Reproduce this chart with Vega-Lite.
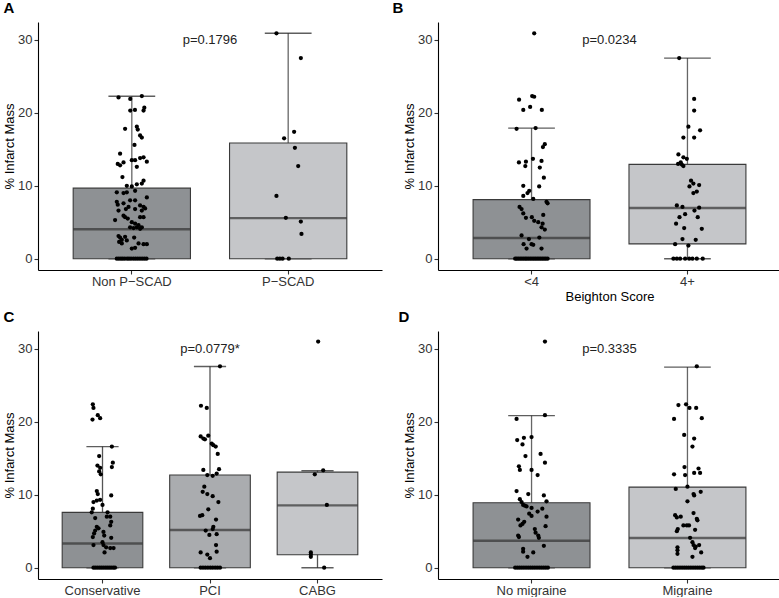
{
"$schema":"https://vega.github.io/schema/vega-lite/v6.json",
"padding":{"left":3,"top":1,"right":0,"bottom":0},
"background":"#ffffff",
"datasets":{
"boxes":[
{"panel":"A","group":"Non P−SCAD","lo":0,"q1":0,"med":4.05,"q3":9.67,"hi":22.27},
{"panel":"A","group":"P−SCAD","lo":0,"q1":0,"med":5.57,"q3":15.87,"hi":30.9},
{"panel":"B","group":"<4","lo":0,"q1":0,"med":2.85,"q3":8.1,"hi":17.9},
{"panel":"B","group":"4+","lo":0,"q1":2.03,"med":6.96,"q3":12.93,"hi":27.5},
{"panel":"C","group":"Conservative","lo":0,"q1":0,"med":3.33,"q3":7.58,"hi":16.6},
{"panel":"C","group":"PCI","lo":0,"q1":0,"med":5.17,"q3":12.7,"hi":27.57},
{"panel":"C","group":"CABG","lo":0,"q1":1.78,"med":8.55,"q3":13.1,"hi":13.3},
{"panel":"D","group":"No migraine","lo":0,"q1":0,"med":3.7,"q3":8.9,"hi":20.85},
{"panel":"D","group":"Migraine","lo":0,"q1":0,"med":4.08,"q3":11.05,"hi":27.5}
],
"labels":[
{"panel":"A","label":"p=0.1796"},
{"panel":"B","label":"p=0.0234"},
{"panel":"C","label":"p=0.0779*"},
{"panel":"D","label":"p=0.3335"}
],
"points":[
{"panel":"A","group":"Non P−SCAD","value":22.1,"jitter":-0.085},
{"panel":"A","group":"Non P−SCAD","value":21.9,"jitter":-0.01},
{"panel":"A","group":"Non P−SCAD","value":22.3,"jitter":0.064},
{"panel":"A","group":"Non P−SCAD","value":20.3,"jitter":-0.01},
{"panel":"A","group":"Non P−SCAD","value":20.4,"jitter":0.02},
{"panel":"A","group":"Non P−SCAD","value":20.7,"jitter":0.08},
{"panel":"A","group":"Non P−SCAD","value":20.3,"jitter":0.075},
{"panel":"A","group":"Non P−SCAD","value":17.8,"jitter":-0.043},
{"panel":"A","group":"Non P−SCAD","value":18.1,"jitter":0.032},
{"panel":"A","group":"Non P−SCAD","value":17.7,"jitter":0.038},
{"panel":"A","group":"Non P−SCAD","value":16.9,"jitter":0.053},
{"panel":"A","group":"Non P−SCAD","value":16.6,"jitter":0.064},
{"panel":"A","group":"Non P−SCAD","value":15.6,"jitter":0.017},
{"panel":"A","group":"Non P−SCAD","value":14.4,"jitter":-0.075},
{"panel":"A","group":"Non P−SCAD","value":13.0,"jitter":-0.09},
{"panel":"A","group":"Non P−SCAD","value":12.8,"jitter":-0.075},
{"panel":"A","group":"Non P−SCAD","value":13.2,"jitter":-0.053},
{"panel":"A","group":"Non P−SCAD","value":13.5,"jitter":0.0},
{"panel":"A","group":"Non P−SCAD","value":13.5,"jitter":0.021},
{"panel":"A","group":"Non P−SCAD","value":13.8,"jitter":0.053},
{"panel":"A","group":"Non P−SCAD","value":13.9,"jitter":0.075},
{"panel":"A","group":"Non P−SCAD","value":13.3,"jitter":0.096},
{"panel":"A","group":"Non P−SCAD","value":12.6,"jitter":0.032},
{"panel":"A","group":"Non P−SCAD","value":11.2,"jitter":-0.06},
{"panel":"A","group":"Non P−SCAD","value":10.7,"jitter":0.075},
{"panel":"A","group":"Non P−SCAD","value":10.3,"jitter":0.064},
{"panel":"A","group":"Non P−SCAD","value":10.0,"jitter":-0.032},
{"panel":"A","group":"Non P−SCAD","value":9.9,"jitter":0.0},
{"panel":"A","group":"Non P−SCAD","value":10.2,"jitter":0.032},
{"panel":"A","group":"Non P−SCAD","value":9.1,"jitter":-0.096},
{"panel":"A","group":"Non P−SCAD","value":9.0,"jitter":-0.053},
{"panel":"A","group":"Non P−SCAD","value":9.1,"jitter":-0.032},
{"panel":"A","group":"Non P−SCAD","value":9.3,"jitter":0.021},
{"panel":"A","group":"Non P−SCAD","value":8.4,"jitter":0.096},
{"panel":"A","group":"Non P−SCAD","value":7.8,"jitter":-0.096},
{"panel":"A","group":"Non P−SCAD","value":7.4,"jitter":-0.09},
{"panel":"A","group":"Non P−SCAD","value":7.6,"jitter":-0.053},
{"panel":"A","group":"Non P−SCAD","value":8.0,"jitter":-0.011},
{"panel":"A","group":"Non P−SCAD","value":8.0,"jitter":0.021},
{"panel":"A","group":"Non P−SCAD","value":7.3,"jitter":0.053},
{"panel":"A","group":"Non P−SCAD","value":7.1,"jitter":0.075},
{"panel":"A","group":"Non P−SCAD","value":6.9,"jitter":0.085},
{"panel":"A","group":"Non P−SCAD","value":6.6,"jitter":-0.085},
{"panel":"A","group":"Non P−SCAD","value":6.8,"jitter":-0.038},
{"panel":"A","group":"Non P−SCAD","value":7.1,"jitter":-0.021},
{"panel":"A","group":"Non P−SCAD","value":6.8,"jitter":0.021},
{"panel":"A","group":"Non P−SCAD","value":6.6,"jitter":0.064},
{"panel":"A","group":"Non P−SCAD","value":5.9,"jitter":-0.053},
{"panel":"A","group":"Non P−SCAD","value":5.7,"jitter":-0.043},
{"panel":"A","group":"Non P−SCAD","value":5.5,"jitter":-0.026},
{"panel":"A","group":"Non P−SCAD","value":5.3,"jitter":-0.107},
{"panel":"A","group":"Non P−SCAD","value":5.7,"jitter":0.053},
{"panel":"A","group":"Non P−SCAD","value":5.7,"jitter":0.075},
{"panel":"A","group":"Non P−SCAD","value":5.0,"jitter":0.0},
{"panel":"A","group":"Non P−SCAD","value":4.8,"jitter":0.021},
{"panel":"A","group":"Non P−SCAD","value":4.6,"jitter":0.043},
{"panel":"A","group":"Non P−SCAD","value":4.3,"jitter":-0.011},
{"panel":"A","group":"Non P−SCAD","value":4.2,"jitter":0.011},
{"panel":"A","group":"Non P−SCAD","value":4.3,"jitter":0.032},
{"panel":"A","group":"Non P−SCAD","value":4.1,"jitter":0.053},
{"panel":"A","group":"Non P−SCAD","value":4.3,"jitter":0.064},
{"panel":"A","group":"Non P−SCAD","value":3.1,"jitter":-0.085},
{"panel":"A","group":"Non P−SCAD","value":2.9,"jitter":-0.075},
{"panel":"A","group":"Non P−SCAD","value":2.6,"jitter":-0.064},
{"panel":"A","group":"Non P−SCAD","value":3.0,"jitter":-0.043},
{"panel":"A","group":"Non P−SCAD","value":2.5,"jitter":-0.032},
{"panel":"A","group":"Non P−SCAD","value":2.9,"jitter":0.015},
{"panel":"A","group":"Non P−SCAD","value":2.3,"jitter":-0.081},
{"panel":"A","group":"Non P−SCAD","value":2.1,"jitter":-0.064},
{"panel":"A","group":"Non P−SCAD","value":2.1,"jitter":0.043},
{"panel":"A","group":"Non P−SCAD","value":2.0,"jitter":0.075},
{"panel":"A","group":"Non P−SCAD","value":2.0,"jitter":0.096},
{"panel":"A","group":"Non P−SCAD","value":1.4,"jitter":0.0},
{"panel":"A","group":"Non P−SCAD","value":1.5,"jitter":0.021},
{"panel":"A","group":"Non P−SCAD","value":0,"jitter":-0.096},
{"panel":"A","group":"Non P−SCAD","value":0,"jitter":-0.083},
{"panel":"A","group":"Non P−SCAD","value":0,"jitter":-0.07},
{"panel":"A","group":"Non P−SCAD","value":0,"jitter":-0.058},
{"panel":"A","group":"Non P−SCAD","value":0,"jitter":-0.045},
{"panel":"A","group":"Non P−SCAD","value":0,"jitter":-0.03},
{"panel":"A","group":"Non P−SCAD","value":0,"jitter":-0.018},
{"panel":"A","group":"Non P−SCAD","value":0,"jitter":-0.005},
{"panel":"A","group":"Non P−SCAD","value":0,"jitter":0.01},
{"panel":"A","group":"Non P−SCAD","value":0,"jitter":0.024},
{"panel":"A","group":"Non P−SCAD","value":0,"jitter":0.038},
{"panel":"A","group":"Non P−SCAD","value":0,"jitter":0.052},
{"panel":"A","group":"Non P−SCAD","value":0,"jitter":0.066},
{"panel":"A","group":"Non P−SCAD","value":0,"jitter":0.08},
{"panel":"A","group":"Non P−SCAD","value":0,"jitter":0.094},
{"panel":"A","group":"P−SCAD","value":30.9,"jitter":-0.075},
{"panel":"A","group":"P−SCAD","value":27.5,"jitter":0.081},
{"panel":"A","group":"P−SCAD","value":17.4,"jitter":0.038},
{"panel":"A","group":"P−SCAD","value":16.5,"jitter":-0.026},
{"panel":"A","group":"P−SCAD","value":15.2,"jitter":0.043},
{"panel":"A","group":"P−SCAD","value":12.7,"jitter":0.064},
{"panel":"A","group":"P−SCAD","value":8.6,"jitter":-0.075},
{"panel":"A","group":"P−SCAD","value":5.6,"jitter":-0.015},
{"panel":"A","group":"P−SCAD","value":5.1,"jitter":0.081},
{"panel":"A","group":"P−SCAD","value":3.4,"jitter":0.085},
{"panel":"A","group":"P−SCAD","value":0,"jitter":-0.07},
{"panel":"A","group":"P−SCAD","value":0,"jitter":-0.053},
{"panel":"A","group":"P−SCAD","value":0,"jitter":-0.036},
{"panel":"A","group":"P−SCAD","value":0,"jitter":0.004},
{"panel":"B","group":"<4","value":30.9,"jitter":0.017},
{"panel":"B","group":"<4","value":21.8,"jitter":-0.08},
{"panel":"B","group":"<4","value":22.3,"jitter":0.004},
{"panel":"B","group":"<4","value":22.2,"jitter":0.017},
{"panel":"B","group":"<4","value":20.4,"jitter":-0.053},
{"panel":"B","group":"<4","value":20.8,"jitter":-0.009},
{"panel":"B","group":"<4","value":20.4,"jitter":0.066},
{"panel":"B","group":"<4","value":17.8,"jitter":-0.096},
{"panel":"B","group":"<4","value":17.9,"jitter":0.026},
{"panel":"B","group":"<4","value":15.7,"jitter":0.085},
{"panel":"B","group":"<4","value":15.3,"jitter":0.073},
{"panel":"B","group":"<4","value":13.7,"jitter":0.009},
{"panel":"B","group":"<4","value":13.2,"jitter":-0.081},
{"panel":"B","group":"<4","value":13.3,"jitter":-0.036},
{"panel":"B","group":"<4","value":12.7,"jitter":-0.04},
{"panel":"B","group":"<4","value":13.4,"jitter":0.064},
{"panel":"B","group":"<4","value":12.5,"jitter":0.053},
{"panel":"B","group":"<4","value":11.1,"jitter":0.079},
{"panel":"B","group":"<4","value":10.0,"jitter":-0.053},
{"panel":"B","group":"<4","value":9.9,"jitter":0.049},
{"panel":"B","group":"<4","value":9.3,"jitter":-0.015},
{"panel":"B","group":"<4","value":9.0,"jitter":-0.026},
{"panel":"B","group":"<4","value":8.2,"jitter":0.011},
{"panel":"B","group":"<4","value":8.6,"jitter":-0.053},
{"panel":"B","group":"<4","value":7.8,"jitter":0.096},
{"panel":"B","group":"<4","value":7.6,"jitter":0.103},
{"panel":"B","group":"<4","value":7.1,"jitter":-0.077},
{"panel":"B","group":"<4","value":6.8,"jitter":-0.064},
{"panel":"B","group":"<4","value":6.2,"jitter":-0.053},
{"panel":"B","group":"<4","value":6.0,"jitter":0.075},
{"panel":"B","group":"<4","value":5.6,"jitter":-0.036},
{"panel":"B","group":"<4","value":5.7,"jitter":0.002},
{"panel":"B","group":"<4","value":5.2,"jitter":0.017},
{"panel":"B","group":"<4","value":5.0,"jitter":0.043},
{"panel":"B","group":"<4","value":4.8,"jitter":0.071},
{"panel":"B","group":"<4","value":4.3,"jitter":0.064},
{"panel":"B","group":"<4","value":4.0,"jitter":0.085},
{"panel":"B","group":"<4","value":3.2,"jitter":-0.064},
{"panel":"B","group":"<4","value":2.7,"jitter":-0.017},
{"panel":"B","group":"<4","value":2.9,"jitter":0.05},
{"panel":"B","group":"<4","value":2.0,"jitter":-0.051},
{"panel":"B","group":"<4","value":2.0,"jitter":0.0},
{"panel":"B","group":"<4","value":1.9,"jitter":0.011},
{"panel":"B","group":"<4","value":1.4,"jitter":-0.032},
{"panel":"B","group":"<4","value":1.4,"jitter":0.064},
{"panel":"B","group":"<4","value":0,"jitter":-0.105},
{"panel":"B","group":"<4","value":0,"jitter":-0.095},
{"panel":"B","group":"<4","value":0,"jitter":-0.084},
{"panel":"B","group":"<4","value":0,"jitter":-0.073},
{"panel":"B","group":"<4","value":0,"jitter":-0.062},
{"panel":"B","group":"<4","value":0,"jitter":-0.051},
{"panel":"B","group":"<4","value":0,"jitter":-0.04},
{"panel":"B","group":"<4","value":0,"jitter":-0.03},
{"panel":"B","group":"<4","value":0,"jitter":-0.019},
{"panel":"B","group":"<4","value":0,"jitter":-0.008},
{"panel":"B","group":"<4","value":0,"jitter":0.003},
{"panel":"B","group":"<4","value":0,"jitter":0.014},
{"panel":"B","group":"<4","value":0,"jitter":0.025},
{"panel":"B","group":"<4","value":0,"jitter":0.036},
{"panel":"B","group":"<4","value":0,"jitter":0.047},
{"panel":"B","group":"<4","value":0,"jitter":0.058},
{"panel":"B","group":"<4","value":0,"jitter":0.069},
{"panel":"B","group":"<4","value":0,"jitter":0.08},
{"panel":"B","group":"<4","value":0,"jitter":0.091},
{"panel":"B","group":"<4","value":0,"jitter":0.103},
{"panel":"B","group":"4+","value":27.5,"jitter":-0.053},
{"panel":"B","group":"4+","value":21.9,"jitter":0.043},
{"panel":"B","group":"4+","value":20.3,"jitter":0.043},
{"panel":"B","group":"4+","value":18.1,"jitter":0.006},
{"panel":"B","group":"4+","value":17.6,"jitter":0.081},
{"panel":"B","group":"4+","value":16.6,"jitter":-0.026},
{"panel":"B","group":"4+","value":16.6,"jitter":0.043},
{"panel":"B","group":"4+","value":14.3,"jitter":-0.058},
{"panel":"B","group":"4+","value":13.9,"jitter":-0.026},
{"panel":"B","group":"4+","value":13.7,"jitter":-0.004},
{"panel":"B","group":"4+","value":13.2,"jitter":-0.043},
{"panel":"B","group":"4+","value":12.9,"jitter":-0.036},
{"panel":"B","group":"4+","value":12.7,"jitter":-0.026},
{"panel":"B","group":"4+","value":13.0,"jitter":-0.06},
{"panel":"B","group":"4+","value":10.7,"jitter":0.023},
{"panel":"B","group":"4+","value":10.3,"jitter":0.038},
{"panel":"B","group":"4+","value":9.9,"jitter":0.013},
{"panel":"B","group":"4+","value":10.1,"jitter":0.075},
{"panel":"B","group":"4+","value":9.0,"jitter":0.038},
{"panel":"B","group":"4+","value":9.2,"jitter":0.06},
{"panel":"B","group":"4+","value":7.3,"jitter":-0.068},
{"panel":"B","group":"4+","value":7.1,"jitter":-0.032},
{"panel":"B","group":"4+","value":6.6,"jitter":0.045},
{"panel":"B","group":"4+","value":7.0,"jitter":0.075},
{"panel":"B","group":"4+","value":6.1,"jitter":-0.015},
{"panel":"B","group":"4+","value":5.7,"jitter":-0.051},
{"panel":"B","group":"4+","value":5.7,"jitter":0.066},
{"panel":"B","group":"4+","value":4.8,"jitter":-0.073},
{"panel":"B","group":"4+","value":4.2,"jitter":-0.021},
{"panel":"B","group":"4+","value":4.1,"jitter":0.092},
{"panel":"B","group":"4+","value":2.7,"jitter":-0.032},
{"panel":"B","group":"4+","value":2.6,"jitter":0.053},
{"panel":"B","group":"4+","value":2.0,"jitter":-0.079},
{"panel":"B","group":"4+","value":1.8,"jitter":0.006},
{"panel":"B","group":"4+","value":0,"jitter":-0.09},
{"panel":"B","group":"4+","value":0,"jitter":-0.068},
{"panel":"B","group":"4+","value":0,"jitter":-0.047},
{"panel":"B","group":"4+","value":0,"jitter":-0.015},
{"panel":"B","group":"4+","value":0,"jitter":0.011},
{"panel":"B","group":"4+","value":0,"jitter":0.032},
{"panel":"B","group":"4+","value":0,"jitter":0.06},
{"panel":"B","group":"4+","value":0,"jitter":0.098},
{"panel":"C","group":"Conservative","value":22.4,"jitter":-0.09},
{"panel":"C","group":"Conservative","value":21.9,"jitter":-0.084},
{"panel":"C","group":"Conservative","value":20.3,"jitter":-0.093},
{"panel":"C","group":"Conservative","value":20.9,"jitter":-0.044},
{"panel":"C","group":"Conservative","value":20.5,"jitter":-0.022},
{"panel":"C","group":"Conservative","value":16.6,"jitter":0.087},
{"panel":"C","group":"Conservative","value":15.3,"jitter":-0.031},
{"panel":"C","group":"Conservative","value":14.0,"jitter":-0.047},
{"panel":"C","group":"Conservative","value":13.7,"jitter":-0.022},
{"panel":"C","group":"Conservative","value":13.2,"jitter":-0.031},
{"panel":"C","group":"Conservative","value":12.8,"jitter":-0.016},
{"panel":"C","group":"Conservative","value":14.4,"jitter":0.096},
{"panel":"C","group":"Conservative","value":13.8,"jitter":0.087},
{"panel":"C","group":"Conservative","value":10.5,"jitter":-0.053},
{"panel":"C","group":"Conservative","value":10.1,"jitter":-0.044},
{"panel":"C","group":"Conservative","value":9.9,"jitter":0.081},
{"panel":"C","group":"Conservative","value":9.2,"jitter":-0.053},
{"panel":"C","group":"Conservative","value":9.3,"jitter":-0.022},
{"panel":"C","group":"Conservative","value":9.0,"jitter":-0.084},
{"panel":"C","group":"Conservative","value":8.6,"jitter":0.0},
{"panel":"C","group":"Conservative","value":8.1,"jitter":-0.09},
{"panel":"C","group":"Conservative","value":7.6,"jitter":-0.1},
{"panel":"C","group":"Conservative","value":7.6,"jitter":0.047},
{"panel":"C","group":"Conservative","value":7.0,"jitter":0.04},
{"panel":"C","group":"Conservative","value":7.0,"jitter":0.072},
{"panel":"C","group":"Conservative","value":6.8,"jitter":-0.068},
{"panel":"C","group":"Conservative","value":6.3,"jitter":0.081},
{"panel":"C","group":"Conservative","value":5.8,"jitter":0.072},
{"panel":"C","group":"Conservative","value":5.6,"jitter":-0.053},
{"panel":"C","group":"Conservative","value":5.4,"jitter":-0.037},
{"panel":"C","group":"Conservative","value":5.1,"jitter":-0.068},
{"panel":"C","group":"Conservative","value":4.9,"jitter":0.009},
{"panel":"C","group":"Conservative","value":4.7,"jitter":-0.078},
{"panel":"C","group":"Conservative","value":4.4,"jitter":0.016},
{"panel":"C","group":"Conservative","value":4.2,"jitter":-0.09},
{"panel":"C","group":"Conservative","value":4.1,"jitter":0.081},
{"panel":"C","group":"Conservative","value":3.1,"jitter":-0.084},
{"panel":"C","group":"Conservative","value":3.5,"jitter":0.0},
{"panel":"C","group":"Conservative","value":3.1,"jitter":0.009},
{"panel":"C","group":"Conservative","value":2.8,"jitter":0.034},
{"panel":"C","group":"Conservative","value":2.7,"jitter":0.072},
{"panel":"C","group":"Conservative","value":2.7,"jitter":0.103},
{"panel":"C","group":"Conservative","value":2.1,"jitter":0.019},
{"panel":"C","group":"Conservative","value":0,"jitter":-0.084},
{"panel":"C","group":"Conservative","value":0,"jitter":-0.066},
{"panel":"C","group":"Conservative","value":0,"jitter":-0.047},
{"panel":"C","group":"Conservative","value":0,"jitter":-0.028},
{"panel":"C","group":"Conservative","value":0,"jitter":-0.01},
{"panel":"C","group":"Conservative","value":0,"jitter":0.008},
{"panel":"C","group":"Conservative","value":0,"jitter":0.027},
{"panel":"C","group":"Conservative","value":0,"jitter":0.045},
{"panel":"C","group":"Conservative","value":0,"jitter":0.063},
{"panel":"C","group":"Conservative","value":0,"jitter":0.081},
{"panel":"C","group":"Conservative","value":0,"jitter":0.1},
{"panel":"C","group":"Conservative","value":0,"jitter":0.116},
{"panel":"C","group":"PCI","value":27.6,"jitter":0.093},
{"panel":"C","group":"PCI","value":22.2,"jitter":-0.084},
{"panel":"C","group":"PCI","value":21.9,"jitter":-0.03},
{"panel":"C","group":"PCI","value":18.0,"jitter":-0.087},
{"panel":"C","group":"PCI","value":17.7,"jitter":-0.062},
{"panel":"C","group":"PCI","value":17.6,"jitter":-0.047},
{"panel":"C","group":"PCI","value":18.1,"jitter":-0.016},
{"panel":"C","group":"PCI","value":17.0,"jitter":0.016},
{"panel":"C","group":"PCI","value":16.8,"jitter":0.031},
{"panel":"C","group":"PCI","value":16.6,"jitter":0.053},
{"panel":"C","group":"PCI","value":15.6,"jitter":0.072},
{"panel":"C","group":"PCI","value":13.4,"jitter":-0.062},
{"panel":"C","group":"PCI","value":13.5,"jitter":0.084},
{"panel":"C","group":"PCI","value":12.7,"jitter":-0.025},
{"panel":"C","group":"PCI","value":12.6,"jitter":0.025},
{"panel":"C","group":"PCI","value":12.9,"jitter":0.062},
{"panel":"C","group":"PCI","value":11.1,"jitter":-0.053},
{"panel":"C","group":"PCI","value":10.4,"jitter":-0.068},
{"panel":"C","group":"PCI","value":10.1,"jitter":-0.025},
{"panel":"C","group":"PCI","value":9.8,"jitter":0.025},
{"panel":"C","group":"PCI","value":9.0,"jitter":0.078},
{"panel":"C","group":"PCI","value":8.0,"jitter":-0.016},
{"panel":"C","group":"PCI","value":7.1,"jitter":-0.093},
{"panel":"C","group":"PCI","value":7.2,"jitter":-0.072},
{"panel":"C","group":"PCI","value":6.6,"jitter":0.056},
{"panel":"C","group":"PCI","value":5.6,"jitter":0.031},
{"panel":"C","group":"PCI","value":5.3,"jitter":0.025},
{"panel":"C","group":"PCI","value":5.1,"jitter":-0.04},
{"panel":"C","group":"PCI","value":4.5,"jitter":-0.006},
{"panel":"C","group":"PCI","value":4.6,"jitter":0.062},
{"panel":"C","group":"PCI","value":3.1,"jitter":0.056},
{"panel":"C","group":"PCI","value":2.2,"jitter":0.062},
{"panel":"C","group":"PCI","value":2.1,"jitter":-0.087},
{"panel":"C","group":"PCI","value":1.8,"jitter":-0.025},
{"panel":"C","group":"PCI","value":1.3,"jitter":0.0},
{"panel":"C","group":"PCI","value":0,"jitter":-0.087},
{"panel":"C","group":"PCI","value":0,"jitter":-0.065},
{"panel":"C","group":"PCI","value":0,"jitter":-0.043},
{"panel":"C","group":"PCI","value":0,"jitter":-0.02},
{"panel":"C","group":"PCI","value":0,"jitter":0.003},
{"panel":"C","group":"PCI","value":0,"jitter":0.025},
{"panel":"C","group":"PCI","value":0,"jitter":0.048},
{"panel":"C","group":"PCI","value":0,"jitter":0.07},
{"panel":"C","group":"PCI","value":0,"jitter":0.093},
{"panel":"C","group":"CABG","value":31.0,"jitter":0.006},
{"panel":"C","group":"CABG","value":13.35,"jitter":0.053},
{"panel":"C","group":"CABG","value":12.8,"jitter":-0.025},
{"panel":"C","group":"CABG","value":8.6,"jitter":0.087},
{"panel":"C","group":"CABG","value":2.1,"jitter":-0.062},
{"panel":"C","group":"CABG","value":1.8,"jitter":-0.062},
{"panel":"C","group":"CABG","value":1.5,"jitter":-0.062},
{"panel":"C","group":"CABG","value":0,"jitter":0.062},
{"panel":"D","group":"No migraine","value":31.0,"jitter":0.086},
{"panel":"D","group":"No migraine","value":20.4,"jitter":-0.096},
{"panel":"D","group":"No migraine","value":20.9,"jitter":0.086},
{"panel":"D","group":"No migraine","value":17.5,"jitter":-0.092},
{"panel":"D","group":"No migraine","value":17.8,"jitter":-0.049},
{"panel":"D","group":"No migraine","value":16.9,"jitter":-0.058},
{"panel":"D","group":"No migraine","value":17.9,"jitter":0.0},
{"panel":"D","group":"No migraine","value":15.3,"jitter":-0.039},
{"panel":"D","group":"No migraine","value":15.6,"jitter":0.058},
{"panel":"D","group":"No migraine","value":14.4,"jitter":0.086},
{"panel":"D","group":"No migraine","value":13.9,"jitter":-0.081},
{"panel":"D","group":"No migraine","value":13.4,"jitter":-0.075},
{"panel":"D","group":"No migraine","value":13.4,"jitter":0.0},
{"panel":"D","group":"No migraine","value":12.7,"jitter":0.039},
{"panel":"D","group":"No migraine","value":10.5,"jitter":-0.096},
{"panel":"D","group":"No migraine","value":10.1,"jitter":-0.021},
{"panel":"D","group":"No migraine","value":9.9,"jitter":0.079},
{"panel":"D","group":"No migraine","value":9.1,"jitter":0.096},
{"panel":"D","group":"No migraine","value":9.4,"jitter":-0.075},
{"panel":"D","group":"No migraine","value":9.0,"jitter":-0.064},
{"panel":"D","group":"No migraine","value":8.6,"jitter":-0.054},
{"panel":"D","group":"No migraine","value":8.5,"jitter":-0.043},
{"panel":"D","group":"No migraine","value":8.4,"jitter":-0.032},
{"panel":"D","group":"No migraine","value":8.2,"jitter":0.0},
{"panel":"D","group":"No migraine","value":8.1,"jitter":0.069},
{"panel":"D","group":"No migraine","value":7.7,"jitter":0.039},
{"panel":"D","group":"No migraine","value":7.4,"jitter":-0.015},
{"panel":"D","group":"No migraine","value":7.1,"jitter":0.0},
{"panel":"D","group":"No migraine","value":7.0,"jitter":0.096},
{"panel":"D","group":"No migraine","value":6.6,"jitter":-0.086},
{"panel":"D","group":"No migraine","value":6.3,"jitter":-0.047},
{"panel":"D","group":"No migraine","value":5.8,"jitter":-0.071},
{"panel":"D","group":"No migraine","value":6.0,"jitter":-0.058},
{"panel":"D","group":"No migraine","value":5.7,"jitter":0.09},
{"panel":"D","group":"No migraine","value":5.3,"jitter":0.021},
{"panel":"D","group":"No migraine","value":4.4,"jitter":-0.086},
{"panel":"D","group":"No migraine","value":4.2,"jitter":-0.081},
{"panel":"D","group":"No migraine","value":4.8,"jitter":0.026},
{"panel":"D","group":"No migraine","value":4.1,"jitter":0.047},
{"panel":"D","group":"No migraine","value":4.4,"jitter":0.043},
{"panel":"D","group":"No migraine","value":3.0,"jitter":0.079},
{"panel":"D","group":"No migraine","value":2.6,"jitter":-0.054},
{"panel":"D","group":"No migraine","value":2.2,"jitter":-0.054},
{"panel":"D","group":"No migraine","value":2.1,"jitter":0.011},
{"panel":"D","group":"No migraine","value":1.5,"jitter":-0.026},
{"panel":"D","group":"No migraine","value":0,"jitter":-0.105},
{"panel":"D","group":"No migraine","value":0,"jitter":-0.091},
{"panel":"D","group":"No migraine","value":0,"jitter":-0.077},
{"panel":"D","group":"No migraine","value":0,"jitter":-0.063},
{"panel":"D","group":"No migraine","value":0,"jitter":-0.049},
{"panel":"D","group":"No migraine","value":0,"jitter":-0.035},
{"panel":"D","group":"No migraine","value":0,"jitter":-0.021},
{"panel":"D","group":"No migraine","value":0,"jitter":-0.007},
{"panel":"D","group":"No migraine","value":0,"jitter":0.007},
{"panel":"D","group":"No migraine","value":0,"jitter":0.021},
{"panel":"D","group":"No migraine","value":0,"jitter":0.035},
{"panel":"D","group":"No migraine","value":0,"jitter":0.049},
{"panel":"D","group":"No migraine","value":0,"jitter":0.063},
{"panel":"D","group":"No migraine","value":0,"jitter":0.077},
{"panel":"D","group":"No migraine","value":0,"jitter":0.091},
{"panel":"D","group":"No migraine","value":0,"jitter":0.105},
{"panel":"D","group":"Migraine","value":27.6,"jitter":0.06},
{"panel":"D","group":"Migraine","value":22.3,"jitter":-0.058},
{"panel":"D","group":"Migraine","value":22.4,"jitter":-0.009},
{"panel":"D","group":"Migraine","value":21.9,"jitter":0.013},
{"panel":"D","group":"Migraine","value":21.9,"jitter":0.056},
{"panel":"D","group":"Migraine","value":20.4,"jitter":-0.086},
{"panel":"D","group":"Migraine","value":20.5,"jitter":0.092},
{"panel":"D","group":"Migraine","value":18.2,"jitter":-0.021},
{"panel":"D","group":"Migraine","value":17.7,"jitter":0.043},
{"panel":"D","group":"Migraine","value":16.6,"jitter":0.032},
{"panel":"D","group":"Migraine","value":13.8,"jitter":-0.019},
{"panel":"D","group":"Migraine","value":12.7,"jitter":-0.015},
{"panel":"D","group":"Migraine","value":13.0,"jitter":0.043},
{"panel":"D","group":"Migraine","value":13.6,"jitter":0.071},
{"panel":"D","group":"Migraine","value":13.0,"jitter":0.081},
{"panel":"D","group":"Migraine","value":12.8,"jitter":-0.086},
{"panel":"D","group":"Migraine","value":10.8,"jitter":-0.075},
{"panel":"D","group":"Migraine","value":11.1,"jitter":0.0},
{"panel":"D","group":"Migraine","value":10.1,"jitter":0.039},
{"panel":"D","group":"Migraine","value":9.9,"jitter":0.043},
{"panel":"D","group":"Migraine","value":10.4,"jitter":0.085},
{"panel":"D","group":"Migraine","value":9.1,"jitter":0.0},
{"panel":"D","group":"Migraine","value":7.2,"jitter":-0.079},
{"panel":"D","group":"Migraine","value":6.9,"jitter":-0.068},
{"panel":"D","group":"Migraine","value":7.0,"jitter":-0.043},
{"panel":"D","group":"Migraine","value":7.5,"jitter":0.039},
{"panel":"D","group":"Migraine","value":6.7,"jitter":0.06},
{"panel":"D","group":"Migraine","value":6.5,"jitter":0.064},
{"panel":"D","group":"Migraine","value":5.8,"jitter":-0.026},
{"panel":"D","group":"Migraine","value":5.8,"jitter":-0.004},
{"panel":"D","group":"Migraine","value":5.8,"jitter":0.01},
{"panel":"D","group":"Migraine","value":5.0,"jitter":-0.068},
{"panel":"D","group":"Migraine","value":5.3,"jitter":-0.062},
{"panel":"D","group":"Migraine","value":5.2,"jitter":0.049},
{"panel":"D","group":"Migraine","value":4.1,"jitter":0.017},
{"panel":"D","group":"Migraine","value":3.5,"jitter":0.032},
{"panel":"D","group":"Migraine","value":3.1,"jitter":0.039},
{"panel":"D","group":"Migraine","value":2.9,"jitter":0.053},
{"panel":"D","group":"Migraine","value":2.7,"jitter":0.049},
{"panel":"D","group":"Migraine","value":3.1,"jitter":0.075},
{"panel":"D","group":"Migraine","value":2.8,"jitter":-0.064},
{"panel":"D","group":"Migraine","value":2.4,"jitter":-0.064},
{"panel":"D","group":"Migraine","value":1.9,"jitter":-0.064},
{"panel":"D","group":"Migraine","value":2.1,"jitter":0.088},
{"panel":"D","group":"Migraine","value":1.5,"jitter":0.032},
{"panel":"D","group":"Migraine","value":0,"jitter":-0.09},
{"panel":"D","group":"Migraine","value":0,"jitter":-0.076},
{"panel":"D","group":"Migraine","value":0,"jitter":-0.062},
{"panel":"D","group":"Migraine","value":0,"jitter":-0.048},
{"panel":"D","group":"Migraine","value":0,"jitter":-0.034},
{"panel":"D","group":"Migraine","value":0,"jitter":-0.02},
{"panel":"D","group":"Migraine","value":0,"jitter":-0.006},
{"panel":"D","group":"Migraine","value":0,"jitter":0.008},
{"panel":"D","group":"Migraine","value":0,"jitter":0.022},
{"panel":"D","group":"Migraine","value":0,"jitter":0.036},
{"panel":"D","group":"Migraine","value":0,"jitter":0.05},
{"panel":"D","group":"Migraine","value":0,"jitter":0.064},
{"panel":"D","group":"Migraine","value":0,"jitter":0.078},
{"panel":"D","group":"Migraine","value":0,"jitter":0.092},
{"panel":"D","group":"Migraine","value":0,"jitter":0.103}
]
},
"vconcat":[
{"hconcat":[
{"title":{"text":"A"},"width":344,"height":248,
"resolve":{"scale":{"xOffset":"independent"}},
"encoding":{"x":{"field":"group","type":"nominal","scale":{"domain":["Non P−SCAD","P−SCAD"],"paddingInner":0.25,"paddingOuter":0.225},"axis":{"title":null},"title":null}},
"layer":[
{"data":{"name":"boxes"},"transform":[{"filter":"datum.panel === 'A'"}],"mark":{"type":"rule","color":"#666666","strokeWidth":1.3},"encoding":{"y":{"field":"lo","type":"quantitative","scale":{"domain":[-1.545,32.445],"nice":false,"zero":false},"axis":{"values":[0,10,20,30]},"title":"% Infarct Mass"},"y2":{"field":"hi"}}},
{"data":{"name":"boxes"},"transform":[{"filter":"datum.panel === 'A'"}],"mark":{"type":"tick","orient":"horizontal","size":46.8,"thickness":1.4,"color":"#1a1a1a"},"encoding":{"y":{"field":"hi","type":"quantitative","scale":{"domain":[-1.545,32.445],"nice":false,"zero":false},"axis":{"values":[0,10,20,30]},"title":"% Infarct Mass"}}},
{"data":{"name":"boxes"},"transform":[{"filter":"datum.panel === 'A'"}],"mark":{"type":"tick","orient":"horizontal","size":46.8,"thickness":1.4,"color":"#1a1a1a"},"encoding":{"y":{"field":"lo","type":"quantitative","scale":{"domain":[-1.545,32.445],"nice":false,"zero":false},"axis":{"values":[0,10,20,30]},"title":"% Infarct Mass"}}},
{"data":{"name":"boxes"},"transform":[{"filter":"datum.panel === 'A'"}],"mark":{"type":"bar","stroke":"#3a3a3a","strokeWidth":1.1,"width":{"band":1}},"encoding":{"y":{"field":"q1","type":"quantitative","scale":{"domain":[-1.545,32.445],"nice":false,"zero":false},"axis":{"values":[0,10,20,30]},"title":"% Infarct Mass"},"y2":{"field":"q3"},"fill":{"field":"group","type":"nominal","scale":{"domain":["Non P−SCAD","P−SCAD"],"range":["#8e9194","#c5c6c9"]},"legend":null}}},
{"data":{"name":"boxes"},"transform":[{"filter":"datum.panel === 'A'"}],"mark":{"type":"tick","orient":"horizontal","size":117.3,"thickness":2.4,"color":"#333333"},"encoding":{"y":{"field":"med","type":"quantitative","scale":{"domain":[-1.545,32.445],"nice":false,"zero":false},"axis":{"values":[0,10,20,30]},"title":"% Infarct Mass"}}},
{"data":{"name":"points"},"transform":[{"filter":"datum.panel === 'A'"}],"mark":{"type":"circle","color":"#000000","size":18,"opacity":1},"encoding":{"y":{"field":"value","type":"quantitative","scale":{"domain":[-1.545,32.445],"nice":false,"zero":false},"axis":{"values":[0,10,20,30]},"title":"% Infarct Mass"},"xOffset":{"field":"jitter","type":"quantitative","scale":{"domain":[-0.375,0.375]}}}},
{"data":{"name":"labels"},"transform":[{"filter":"datum.panel === 'A'"}],"mark":{"type":"text","fontSize":13,"color":"#222222","baseline":"middle","font":"Liberation Sans"},"encoding":{"x":{"datum":"Non P−SCAD"},"xOffset":{"datum":0.5,"type":"quantitative","scale":{"domain":[-0.375,0.375]}},"y":{"datum":30,"type":"quantitative"},"text":{"field":"label"}}}
]},
{"title":{"text":"B","dx":-11},"width":343,"height":248,
"resolve":{"scale":{"xOffset":"independent"}},
"encoding":{"x":{"field":"group","type":"nominal","scale":{"domain":["<4","4+"],"paddingInner":0.25,"paddingOuter":0.225},"axis":{"title":"Beighton Score"},"title":"Beighton Score"}},
"layer":[
{"data":{"name":"boxes"},"transform":[{"filter":"datum.panel === 'B'"}],"mark":{"type":"rule","color":"#666666","strokeWidth":1.3},"encoding":{"y":{"field":"lo","type":"quantitative","scale":{"domain":[-1.545,32.445],"nice":false,"zero":false},"axis":{"values":[0,10,20,30]},"title":"% Infarct Mass"},"y2":{"field":"hi"}}},
{"data":{"name":"boxes"},"transform":[{"filter":"datum.panel === 'B'"}],"mark":{"type":"tick","orient":"horizontal","size":46.7,"thickness":1.4,"color":"#1a1a1a"},"encoding":{"y":{"field":"hi","type":"quantitative","scale":{"domain":[-1.545,32.445],"nice":false,"zero":false},"axis":{"values":[0,10,20,30]},"title":"% Infarct Mass"}}},
{"data":{"name":"boxes"},"transform":[{"filter":"datum.panel === 'B'"}],"mark":{"type":"tick","orient":"horizontal","size":46.7,"thickness":1.4,"color":"#1a1a1a"},"encoding":{"y":{"field":"lo","type":"quantitative","scale":{"domain":[-1.545,32.445],"nice":false,"zero":false},"axis":{"values":[0,10,20,30]},"title":"% Infarct Mass"}}},
{"data":{"name":"boxes"},"transform":[{"filter":"datum.panel === 'B'"}],"mark":{"type":"bar","stroke":"#3a3a3a","strokeWidth":1.1,"width":{"band":1}},"encoding":{"y":{"field":"q1","type":"quantitative","scale":{"domain":[-1.545,32.445],"nice":false,"zero":false},"axis":{"values":[0,10,20,30]},"title":"% Infarct Mass"},"y2":{"field":"q3"},"fill":{"field":"group","type":"nominal","scale":{"domain":["<4","4+"],"range":["#8e9194","#c5c6c9"]},"legend":null}}},
{"data":{"name":"boxes"},"transform":[{"filter":"datum.panel === 'B'"}],"mark":{"type":"tick","orient":"horizontal","size":116.8,"thickness":2.4,"color":"#333333"},"encoding":{"y":{"field":"med","type":"quantitative","scale":{"domain":[-1.545,32.445],"nice":false,"zero":false},"axis":{"values":[0,10,20,30]},"title":"% Infarct Mass"}}},
{"data":{"name":"points"},"transform":[{"filter":"datum.panel === 'B'"}],"mark":{"type":"circle","color":"#000000","size":18,"opacity":1},"encoding":{"y":{"field":"value","type":"quantitative","scale":{"domain":[-1.545,32.445],"nice":false,"zero":false},"axis":{"values":[0,10,20,30]},"title":"% Infarct Mass"},"xOffset":{"field":"jitter","type":"quantitative","scale":{"domain":[-0.375,0.375]}}}},
{"data":{"name":"labels"},"transform":[{"filter":"datum.panel === 'B'"}],"mark":{"type":"text","fontSize":13,"color":"#222222","baseline":"middle","font":"Liberation Sans"},"encoding":{"x":{"datum":"<4"},"xOffset":{"datum":0.5,"type":"quantitative","scale":{"domain":[-0.375,0.375]}},"y":{"datum":30,"type":"quantitative"},"text":{"field":"label"}}}
]}
],"spacing":10,"resolve":{"scale":{"x":"independent","y":"independent","fill":"independent","xOffset":"independent"}}},
{"hconcat":[
{"title":{"text":"C"},"width":344,"height":248,
"resolve":{"scale":{"xOffset":"independent"}},
"encoding":{"x":{"field":"group","type":"nominal","scale":{"domain":["Conservative","PCI","CABG"],"paddingInner":0.25,"paddingOuter":0.225},"axis":{"title":null},"title":null}},
"layer":[
{"data":{"name":"boxes"},"transform":[{"filter":"datum.panel === 'C'"}],"mark":{"type":"rule","color":"#555555","strokeWidth":1.3},"encoding":{"y":{"field":"lo","type":"quantitative","scale":{"domain":[-1.545,32.445],"nice":false,"zero":false},"axis":{"values":[0,10,20,30]},"title":"% Infarct Mass"},"y2":{"field":"hi"}}},
{"data":{"name":"boxes"},"transform":[{"filter":"datum.panel === 'C'"}],"mark":{"type":"tick","orient":"horizontal","size":32.2,"thickness":1.4,"color":"#1a1a1a"},"encoding":{"y":{"field":"hi","type":"quantitative","scale":{"domain":[-1.545,32.445],"nice":false,"zero":false},"axis":{"values":[0,10,20,30]},"title":"% Infarct Mass"}}},
{"data":{"name":"boxes"},"transform":[{"filter":"datum.panel === 'C'"}],"mark":{"type":"tick","orient":"horizontal","size":32.2,"thickness":1.4,"color":"#1a1a1a"},"encoding":{"y":{"field":"lo","type":"quantitative","scale":{"domain":[-1.545,32.445],"nice":false,"zero":false},"axis":{"values":[0,10,20,30]},"title":"% Infarct Mass"}}},
{"data":{"name":"boxes"},"transform":[{"filter":"datum.panel === 'C'"}],"mark":{"type":"bar","stroke":"#3a3a3a","strokeWidth":1.1,"width":{"band":1}},"encoding":{"y":{"field":"q1","type":"quantitative","scale":{"domain":[-1.545,32.445],"nice":false,"zero":false},"axis":{"values":[0,10,20,30]},"title":"% Infarct Mass"},"y2":{"field":"q3"},"fill":{"field":"group","type":"nominal","scale":{"domain":["Conservative","PCI","CABG"],"range":["#8e9194","#aaacaf","#c5c6c9"]},"legend":null}}},
{"data":{"name":"boxes"},"transform":[{"filter":"datum.panel === 'C'"}],"mark":{"type":"tick","orient":"horizontal","size":80.4,"thickness":2.4,"color":"#333333"},"encoding":{"y":{"field":"med","type":"quantitative","scale":{"domain":[-1.545,32.445],"nice":false,"zero":false},"axis":{"values":[0,10,20,30]},"title":"% Infarct Mass"}}},
{"data":{"name":"points"},"transform":[{"filter":"datum.panel === 'C'"}],"mark":{"type":"circle","color":"#000000","size":18,"opacity":1},"encoding":{"y":{"field":"value","type":"quantitative","scale":{"domain":[-1.545,32.445],"nice":false,"zero":false},"axis":{"values":[0,10,20,30]},"title":"% Infarct Mass"},"xOffset":{"field":"jitter","type":"quantitative","scale":{"domain":[-0.375,0.375]}}}},
{"data":{"name":"labels"},"transform":[{"filter":"datum.panel === 'C'"}],"mark":{"type":"text","fontSize":13,"color":"#222222","baseline":"middle","font":"Liberation Sans"},"encoding":{"x":{"datum":"PCI"},"xOffset":{"datum":0,"type":"quantitative","scale":{"domain":[-0.375,0.375]}},"y":{"datum":30,"type":"quantitative"},"text":{"field":"label"}}}
]},
{"title":{"text":"D","dx":-5},"width":343,"height":248,
"resolve":{"scale":{"xOffset":"independent"}},
"encoding":{"x":{"field":"group","type":"nominal","scale":{"domain":["No migraine","Migraine"],"paddingInner":0.25,"paddingOuter":0.225},"axis":{"title":null},"title":null}},
"layer":[
{"data":{"name":"boxes"},"transform":[{"filter":"datum.panel === 'D'"}],"mark":{"type":"rule","color":"#666666","strokeWidth":1.3},"encoding":{"y":{"field":"lo","type":"quantitative","scale":{"domain":[-1.545,32.445],"nice":false,"zero":false},"axis":{"values":[0,10,20,30]},"title":"% Infarct Mass"},"y2":{"field":"hi"}}},
{"data":{"name":"boxes"},"transform":[{"filter":"datum.panel === 'D'"}],"mark":{"type":"tick","orient":"horizontal","size":46.7,"thickness":1.4,"color":"#1a1a1a"},"encoding":{"y":{"field":"hi","type":"quantitative","scale":{"domain":[-1.545,32.445],"nice":false,"zero":false},"axis":{"values":[0,10,20,30]},"title":"% Infarct Mass"}}},
{"data":{"name":"boxes"},"transform":[{"filter":"datum.panel === 'D'"}],"mark":{"type":"tick","orient":"horizontal","size":46.7,"thickness":1.4,"color":"#1a1a1a"},"encoding":{"y":{"field":"lo","type":"quantitative","scale":{"domain":[-1.545,32.445],"nice":false,"zero":false},"axis":{"values":[0,10,20,30]},"title":"% Infarct Mass"}}},
{"data":{"name":"boxes"},"transform":[{"filter":"datum.panel === 'D'"}],"mark":{"type":"bar","stroke":"#3a3a3a","strokeWidth":1.1,"width":{"band":1}},"encoding":{"y":{"field":"q1","type":"quantitative","scale":{"domain":[-1.545,32.445],"nice":false,"zero":false},"axis":{"values":[0,10,20,30]},"title":"% Infarct Mass"},"y2":{"field":"q3"},"fill":{"field":"group","type":"nominal","scale":{"domain":["No migraine","Migraine"],"range":["#8e9194","#c5c6c9"]},"legend":null}}},
{"data":{"name":"boxes"},"transform":[{"filter":"datum.panel === 'D'"}],"mark":{"type":"tick","orient":"horizontal","size":116.8,"thickness":2.4,"color":"#333333"},"encoding":{"y":{"field":"med","type":"quantitative","scale":{"domain":[-1.545,32.445],"nice":false,"zero":false},"axis":{"values":[0,10,20,30]},"title":"% Infarct Mass"}}},
{"data":{"name":"points"},"transform":[{"filter":"datum.panel === 'D'"}],"mark":{"type":"circle","color":"#000000","size":18,"opacity":1},"encoding":{"y":{"field":"value","type":"quantitative","scale":{"domain":[-1.545,32.445],"nice":false,"zero":false},"axis":{"values":[0,10,20,30]},"title":"% Infarct Mass"},"xOffset":{"field":"jitter","type":"quantitative","scale":{"domain":[-0.375,0.375]}}}},
{"data":{"name":"labels"},"transform":[{"filter":"datum.panel === 'D'"}],"mark":{"type":"text","fontSize":13,"color":"#222222","baseline":"middle","font":"Liberation Sans"},"encoding":{"x":{"datum":"No migraine"},"xOffset":{"datum":0.5,"type":"quantitative","scale":{"domain":[-0.375,0.375]}},"y":{"datum":30,"type":"quantitative"},"text":{"field":"label"}}}
]}
],"spacing":16,"resolve":{"scale":{"x":"independent","y":"independent","fill":"independent","xOffset":"independent"}}}
],
"spacing":7,
"resolve":{"scale":{"x":"independent","y":"independent","fill":"independent","xOffset":"independent"}},
"config":{
"font":"Liberation Sans",
"view":{"stroke":null},
"axis":{"grid":false,"domainColor":"#000000","domainWidth":1.1,"tickColor":"#333333","tickSize":4,"tickWidth":1.1,"labelFont":"Liberation Sans","labelFontSize":13,"labelColor":"#333333","titleFont":"Liberation Sans","titleFontSize":13,"titleFontWeight":"normal","titleColor":"#000000"},
"axisY":{"labelPadding":2,"titlePadding":1},
"axisX":{"labelPadding":1,"labelAngle":0,"titlePadding":2},
"title":{"font":"Liberation Sans","fontSize":15,"fontWeight":"bold","anchor":"start","color":"#000000","offset":6}
}
}
